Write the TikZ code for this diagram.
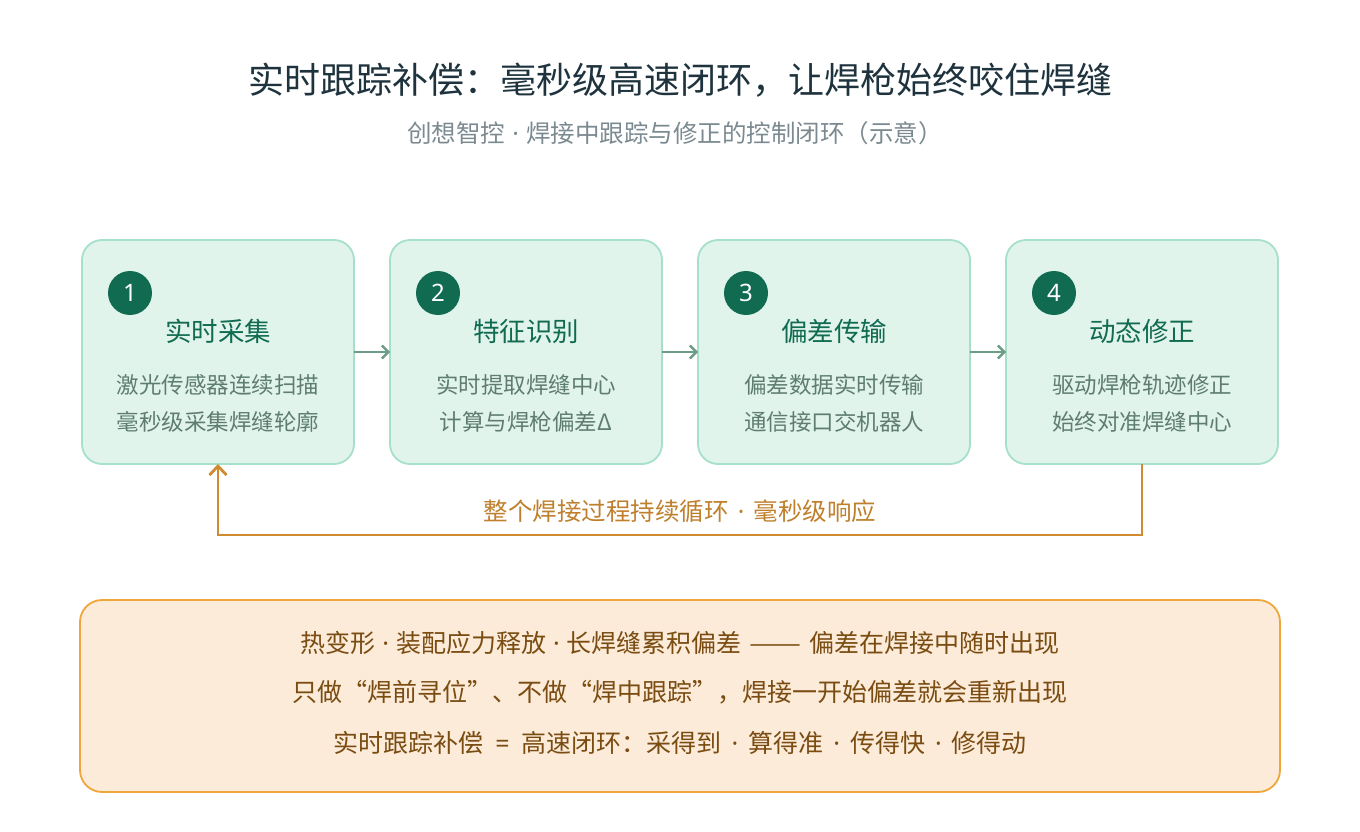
\documentclass[tikz,border=0pt]{standalone}
\usepackage{fontspec}
\setmainfont{Noto Sans CJK SC}
\newfontfamily\latinfont{Noto Sans}
\usetikzlibrary{positioning,arrows.meta}

\definecolor{stepfill}{HTML}{E1F4EC}
\definecolor{stepdraw}{HTML}{A6E0CB}
\definecolor{stepdark}{HTML}{106B51}
\definecolor{steptext}{HTML}{5E7D70}
\definecolor{linkgreen}{HTML}{6C9C86}
\definecolor{loopcol}{HTML}{D08A30}
\definecolor{notefill}{HTML}{FBEBD8}
\definecolor{notedraw}{HTML}{EFA63A}
\definecolor{notetext}{HTML}{7A4C12}
\definecolor{titlecol}{HTML}{1E333D}
\definecolor{subcol}{HTML}{7B8A90}

\newcommand{\md}[1][7pt]{\hspace{#1}{\latinfont ·}\hspace{#1}}
\newcommand{\ldash}{\hspace{8pt}\resizebox{52pt}{\height}{——}\hspace{8pt}}

\begin{document}
\begin{tikzpicture}[x=1pt,y=-1pt]
      \tikzstyle{stepbox}=[rectangle, rounded corners=20pt, draw=stepdraw, line width=1.8pt, fill=stepfill, minimum width=272pt, minimum height=224pt, inner sep=0pt, outer sep=0pt]
      \tikzstyle{badge}=[circle, fill=stepdark, minimum size=44pt, inner sep=0pt, text=white, font=\latinfont\fontsize{24}{26}\selectfont]
      \tikzstyle{steptitle}=[text=stepdark, font=\fontsize{26.5}{30}\selectfont]
      \tikzstyle{stepbody}=[text=steptext, align=center, font=\fontsize{22.5}{37}\selectfont]
      \tikzstyle{link}=[-{Straight Barb[length=6.5pt,width=13pt]}, line width=2.4pt, draw=linkgreen]
      \tikzstyle{loop}=[-{Straight Barb[length=9pt,width=17pt]}, line width=2.8pt, draw=loopcol]
      \tikzstyle{notebox}=[rectangle, rounded corners=22pt, draw=notedraw, line width=1.8pt, fill=notefill, minimum width=1200pt, minimum height=192pt]
      \tikzstyle{noteline}=[text=notetext, font=\fontsize{25}{28}\selectfont]

      \useasboundingbox (0,0) rectangle (1360,832);

      % heading
      \node[text=titlecol, font=\fontsize{36}{40}\selectfont] (title) at (680,80) {实时跟踪补偿：毫秒级高速闭环，让焊枪始终咬住焊缝};
      \node[text=subcol, font=\fontsize{24.5}{28}\selectfont] (subtitle) at (675,133) {创想智控\md{}焊接中跟踪与修正的控制闭环（示意）};

      % steps
      \node[stepbox] (s1) at (218,352) {};
      \node[stepbox] (s2) [right=36pt of s1] {};
      \node[stepbox] (s3) [right=36pt of s2] {};
      \node[stepbox] (s4) [right=36pt of s3] {};

      \foreach \s/\n/\t/\a/\b in {s1/1/实时采集/激光传感器连续扫描/毫秒级采集焊缝轮廓,
                                s2/2/特征识别/实时提取焊缝中心/计算与焊枪偏差Δ,
                                s3/3/偏差传输/偏差数据实时传输/通信接口交机器人,
                                s4/4/动态修正/驱动焊枪轨迹修正/始终对准焊缝中心} {
        \node[badge] (\s n) at ([xshift=48pt,yshift=-53pt]\s.north west) {\n};
        \node[steptitle] (\s t) at ([yshift=-91pt]\s.north) {\t};
        \node[stepbody] (\s b) at ([yshift=-163pt]\s.north) {\a\\\b};
      }

      \path (s1) edge [link] (s2)
        (s2) edge [link] (s3)
        (s3) edge [link] (s4);

      % feedback loop
      \coordinate (lr) at (1142,535);
      \coordinate (ll) at (218,535);
      \draw[loop] (s4.south) -- (lr) -- (ll) -- (s1.south);
      \node[text=loopcol!92!black, font=\fontsize{24.5}{28}\selectfont] (looplabel) at (680,511) {整个焊接过程持续循环\md[9pt]{}毫秒级响应};

      % note
      \node[notebox] (note) at (680,696) {};
      \node[noteline] (n1) at (680,643) {热变形\md{}装配应力释放\md{}长焊缝累积偏差\ldash{}偏差在焊接中随时出现};
      \node[noteline] (n2) at (680,692) {只做“焊前寻位”、不做“焊中跟踪”，焊接一开始偏差就会重新出现};
      \node[noteline] (n3) at (680,743) {实时跟踪补偿\hspace{12pt}{\latinfont =}\hspace{12pt}高速闭环：采得到\md[10pt]{}算得准\md[10pt]{}传得快\md[10pt]{}修得动};

    \end{tikzpicture}
\end{document}
